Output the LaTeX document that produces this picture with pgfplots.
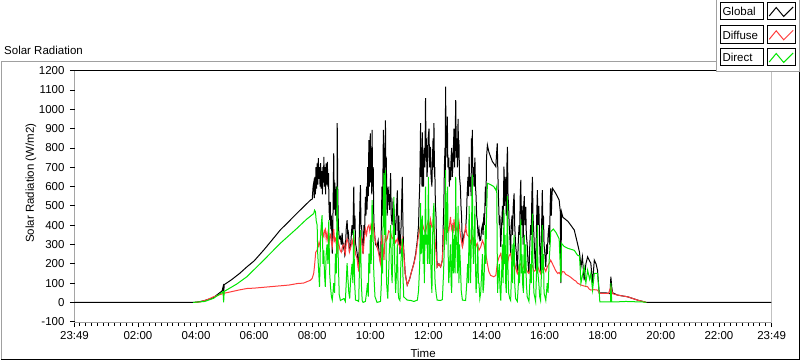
\documentclass[border=0pt]{standalone}
\usepackage{pgfplots}
\pgfplotsset{compat=1.18}
\usepackage{fontspec}
\setmainfont{Liberation Sans}
\definecolor{diffc}{RGB}{255,60,60}
\definecolor{dirc}{RGB}{0,230,0}
\definecolor{framegray}{RGB}{160,160,160}
\begin{document}
\fontsize{11.5bp}{14bp}\selectfont
\begin{tikzpicture}
\useasboundingbox (0,0) rectangle (800bp,361bp);
\begin{scope}[x=1bp,y=1bp]
\draw[framegray, line width=1bp] (1,1.5) -- (1,299.5) -- (717,299.5);
\draw[black, line width=1.2bp] (1,1.2) -- (799.2,1.2) -- (799.2,290);
\end{scope}
\begin{axis}[
  at={(74.5bp,38.3bp)}, anchor=south west,
  scale only axis, width=697.2bp, height=252bp,
  xmin=-0.18333, xmax=23.81667, ymin=-105, ymax=1200,
  xtick={-0.18333,2,4,6,8,10,12,14,16,18,20,22,23.81667},
  xticklabels={23:49,02:00,04:00,06:00,08:00,10:00,12:00,14:00,16:00,18:00,20:00,22:00,23:49},
  minor xtick={0,0.2,...,23.8},
  ytick={-100,0,100,200,300,400,500,600,700,800,900,1000,1100,1200},
  yticklabels={-100,0,100,200,300,400,500,600,700,800,900,1000,1100,1200},
  tick pos=left, tick align=outside,
  major tick length=4.5bp, minor tick length=3bp,
  every tick/.style={black, line width=0.8bp},
  axis line style={draw=none},
  yticklabel style={xshift=-1.5bp},
  title={Solar Radiation},
  every axis title shift=0pt,
  title style={at={(axis description cs:-0.1011,1.0623)}, anchor=base west, inner sep=0pt, yshift=0pt},
  xlabel={Time},
  xlabel style={at={(axis description cs:0.5,-0.12)}, anchor=center},
  ylabel={Solar Radiation (W/m2)},
  ylabel style={at={(axis description cs:-0.0624,0.554)}, anchor=center},
  clip=true,
]
% Global
\addplot[black, line width=1bp, mark=none] coordinates {
(-0.18333,0) (3.9,0) (4.1,3) (4.3,10) (4.6,25) (4.9,60) (4.93,80) (4.95,40) (4.97,92) (5.2,115) (5.5,150) (5.75,184) (6.0,215) (6.33,271) (6.6,320) (6.9,375) (7.2,420) (7.47,461) (7.7,495) (7.94,530)
(8.00,535) (8.03,600) (8.05,618) (8.07,540) (8.09,650) (8.11,560) (8.13,700) (8.15,590) (8.17,720) (8.19,610) (8.21,747) (8.23,640) (8.25,700) (8.27,600) (8.29,721) (8.31,590) (8.33,680) (8.35,560) (8.37,700) (8.39,620) (8.40,754) (8.42,600) (8.44,700) (8.46,560) (8.48,720) (8.50,610) (8.52,728) (8.54,600) (8.56,669) (8.58,480) (8.60,426) (8.62,520) (8.64,380) (8.66,450) (8.69,253) (8.71,400) (8.74,772) (8.76,480) (8.78,620) (8.80,450) (8.83,600) (8.85,420) (8.86,928) (8.88,560) (8.90,400) (8.93,330) (8.97,340)
(9.00,300) (9.03,360) (9.06,280) (9.09,300) (9.12,250) (9.14,271) (9.17,380) (9.20,426) (9.23,330) (9.25,350) (9.28,270) (9.32,288) (9.35,360) (9.37,400) (9.40,350) (9.43,599) (9.45,380) (9.47,450) (9.49,306) (9.52,280) (9.55,250) (9.58,200) (9.60,167) (9.62,350) (9.64,500) (9.66,608) (9.68,380) (9.70,400) (9.72,300) (9.75,253) (9.78,400) (9.80,350) (9.83,547) (9.85,450) (9.87,600) (9.89,480) (9.91,700) (9.93,550) (9.95,841) (9.97,600) (9.98,760)
(10.00,876) (10.02,620) (10.03,700) (10.05,560) (10.06,893) (10.08,600) (10.10,700) (10.12,426) (10.15,350) (10.18,300) (10.23,288) (10.27,320) (10.30,260) (10.35,203) (10.38,400) (10.40,600) (10.42,450) (10.44,750) (10.45,893) (10.47,500) (10.49,800) (10.50,700) (10.52,943) (10.54,600) (10.55,750) (10.57,500) (10.58,450) (10.61,600) (10.63,550) (10.66,480) (10.70,669) (10.72,450) (10.75,400) (10.78,520) (10.81,500) (10.84,400) (10.87,350) (10.90,480) (10.93,580) (10.96,300) (10.98,450)
(11.02,250) (11.06,400) (11.10,650) (11.12,420) (11.14,300) (11.20,150) (11.27,90) (11.35,120) (11.42,160) (11.50,203) (11.56,250) (11.62,323) (11.66,400) (11.68,520) (11.70,600) (11.72,800) (11.73,928) (11.75,650) (11.76,700) (11.78,600) (11.79,880) (11.81,650) (11.83,600) (11.84,750) (11.86,800) (11.88,700) (11.90,1058) (11.92,750) (11.93,850) (11.95,650) (11.97,700) (11.99,850)
(12.02,900) (12.04,700) (12.07,806) (12.09,650) (12.12,600) (12.14,750) (12.16,850) (12.18,700) (12.19,928) (12.21,650) (12.22,700) (12.24,500) (12.26,450) (12.28,300) (12.30,184) (12.36,200) (12.42,184) (12.48,219) (12.51,400) (12.53,500) (12.55,700) (12.57,800) (12.58,650) (12.59,1117) (12.61,800) (12.62,900) (12.64,750) (12.65,962) (12.67,700) (12.70,750) (12.72,600) (12.74,700) (12.76,634) (12.78,750) (12.80,800) (12.82,650) (12.84,700) (12.86,800) (12.88,900) (12.90,700) (12.92,850) (12.94,1048) (12.96,750) (12.98,850)
(13.00,700) (13.02,950) (13.04,750) (13.05,841) (13.07,650) (13.10,600) (13.12,500) (13.14,450) (13.17,288) (13.22,350) (13.28,375) (13.31,450) (13.33,550) (13.36,650) (13.38,550) (13.40,754) (13.42,600) (13.45,650) (13.47,550) (13.48,850) (13.50,700) (13.51,893) (13.53,650) (13.55,700) (13.57,600) (13.60,750) (13.62,600) (13.64,550) (13.66,450) (13.68,426) (13.71,350) (13.74,380) (13.77,320) (13.80,323) (13.83,380) (13.86,400) (13.88,350) (13.91,461) (13.93,400) (13.96,600) (13.98,500)
(14.00,750) (14.03,815) (14.08,780) (14.14,754) (14.20,730) (14.27,715) (14.32,703) (14.35,780) (14.37,824) (14.40,600) (14.42,500) (14.44,400) (14.46,450) (14.49,288) (14.52,400) (14.55,500) (14.57,400) (14.60,703) (14.62,500) (14.64,650) (14.66,600) (14.68,450) (14.70,700) (14.72,806) (14.74,550) (14.76,500) (14.78,400) (14.80,350) (14.83,253) (14.85,400) (14.88,450) (14.90,350) (14.92,500) (14.95,565) (14.97,400)
(15.00,300) (15.03,250) (15.06,150) (15.09,300) (15.12,400) (15.14,350) (15.16,550) (15.18,634) (15.20,400) (15.22,500) (15.24,450) (15.26,300) (15.28,500) (15.30,550) (15.32,400) (15.35,495) (15.37,350) (15.40,300) (15.43,200) (15.46,150) (15.49,300) (15.52,400) (15.54,350) (15.56,550) (15.58,650) (15.60,450) (15.63,350) (15.66,250) (15.69,167) (15.72,400) (15.75,582) (15.77,400) (15.80,500) (15.83,300) (15.86,150) (15.89,350) (15.92,582) (15.94,400) (15.96,450) (15.98,300)
(16.01,250) (16.04,184) (16.07,300) (16.09,250) (16.12,350) (16.15,400) (16.17,300) (16.19,500) (16.21,591) (16.23,450) (16.25,550) (16.27,591) (16.32,580) (16.40,560) (16.50,530) (16.54,469) (16.56,100) (16.58,469) (16.63,440) (16.67,436) (16.80,420) (16.90,400)
(17.02,375) (17.13,306) (17.20,260) (17.25,184) (17.30,236) (17.36,115) (17.42,200) (17.48,236) (17.53,220) (17.59,203) (17.65,100) (17.71,219) (17.77,200) (17.82,167) (17.88,47) (17.94,50)
(18.10,50) (18.25,45) (18.28,133) (18.31,80) (18.34,50) (18.51,38) (18.86,29) (19.20,12) (19.43,3) (19.50,0) (23.81667,0)
};
% Diffuse
\addplot[diffc, line width=1bp, mark=none] coordinates {
(3.95,0) (4.15,3) (4.4,15) (4.6,29) (4.95,47) (5.2,55) (5.5,65) (5.75,72) (6.0,74) (6.3,78) (6.6,82) (6.9,86) (7.2,90) (7.5,98) (7.7,100) (7.94,115) (8.0,125) (8.05,150) (8.08,190) (8.12,260) (8.17,271) (8.2,310) (8.23,290) (8.28,323) (8.31,380) (8.34,400) (8.37,350) (8.40,340) (8.42,370) (8.45,380) (8.48,330) (8.51,360) (8.54,320) (8.57,300) (8.60,340) (8.63,350) (8.66,310) (8.69,288) (8.72,340) (8.74,380) (8.77,320) (8.80,330) (8.83,300) (8.86,250) (8.89,320) (8.92,300) (8.96,270)
(9.0,260) (9.04,290) (9.09,300) (9.12,260) (9.14,250) (9.17,310) (9.2,330) (9.25,300) (9.28,260) (9.32,280) (9.37,320) (9.4,300) (9.43,350) (9.46,300) (9.49,250) (9.54,230) (9.6,160) (9.63,280) (9.66,350) (9.7,330) (9.75,250) (9.79,320) (9.83,380) (9.87,350) (9.91,390) (9.95,400) (9.98,370)
(10.02,400) (10.06,360) (10.09,420) (10.12,380) (10.17,320) (10.23,288) (10.28,260) (10.35,203) (10.38,300) (10.4,350) (10.44,280) (10.47,219) (10.5,320) (10.52,357) (10.55,320) (10.58,330) (10.63,370) (10.7,360) (10.75,330) (10.81,340) (10.87,310) (10.93,330) (10.98,300)
(11.04,280) (11.1,330) (11.14,280) (11.2,150) (11.27,90) (11.35,120) (11.42,160) (11.5,200) (11.56,240) (11.62,306) (11.66,350) (11.7,380) (11.74,340) (11.79,410) (11.84,380) (11.9,360) (11.95,400)
(12.0,420) (12.04,380) (12.07,430) (12.12,390) (12.19,400) (12.24,300) (12.3,184) (12.36,200) (12.42,184) (12.48,219) (12.53,380) (12.56,350) (12.59,426) (12.62,380) (12.65,400) (12.7,370) (12.76,443) (12.79,380) (12.82,400) (12.85,360) (12.88,430) (12.91,380) (12.94,392) (12.99,370)
(13.05,420) (13.1,350) (13.17,288) (13.22,330) (13.28,392) (13.33,350) (13.4,340) (13.45,310) (13.51,340) (13.55,300) (13.6,320) (13.64,290) (13.68,306) (13.74,270) (13.8,288) (13.86,320) (13.91,300) (13.96,260)
(14.0,230) (14.03,200) (14.08,160) (14.14,140) (14.25,133) (14.32,140) (14.37,200) (14.42,230) (14.49,253) (14.54,210) (14.6,230) (14.66,190) (14.72,200) (14.77,240) (14.83,253) (14.88,210) (14.95,220)
(15.0,180) (15.06,150) (15.12,190) (15.18,200) (15.24,170) (15.3,200) (15.35,180) (15.4,160) (15.46,150) (15.52,180) (15.58,190) (15.63,160) (15.69,167) (15.75,190) (15.8,170) (15.86,150) (15.92,190) (15.98,180)
(16.04,160) (16.09,184) (16.15,200) (16.21,219) (16.27,200) (16.32,184) (16.38,165) (16.45,150) (16.5,155) (16.56,141) (16.61,160) (16.67,158) (16.73,145) (16.8,140) (16.9,130)
(17.02,115) (17.08,110) (17.13,100) (17.2,95) (17.25,90) (17.36,85) (17.48,81) (17.53,70) (17.59,64) (17.7,66) (17.82,64) (17.88,50) (17.94,47)
(18.2,47) (18.28,81) (18.34,45) (18.51,38) (18.86,29) (19.2,12) (19.43,3) (19.5,0)
};
% Direct
\addplot[dirc, line width=1bp, mark=none] coordinates {
(3.9,0) (4.3,5) (4.6,21) (4.93,55) (4.95,0) (4.97,57) (5.4,95) (5.75,133) (6.33,219) (6.9,306) (7.47,383) (7.8,430) (8.05,460)
(8.08,478) (8.11,470) (8.14,420) (8.17,400) (8.19,250) (8.22,167) (8.25,81) (8.27,200) (8.28,300) (8.31,400) (8.34,452) (8.36,300) (8.37,200) (8.40,270) (8.42,150) (8.45,81) (8.48,250) (8.51,300) (8.54,200) (8.57,426) (8.6,150) (8.63,81) (8.66,30) (8.69,12) (8.72,60) (8.74,100) (8.77,50) (8.8,253) (8.83,150) (8.86,599) (8.88,350) (8.9,200) (8.93,40) (8.97,10)
(9.03,15) (9.09,20) (9.14,5) (9.17,100) (9.2,203) (9.23,120) (9.26,50) (9.29,20) (9.32,115) (9.37,200) (9.4,100) (9.43,375) (9.46,100) (9.49,12) (9.55,10) (9.6,5) (9.63,200) (9.66,375) (9.69,100) (9.72,10) (9.75,0) (9.83,5) (9.87,50) (9.9,100) (9.93,30) (9.95,253) (9.98,150)
(10.0,350) (10.03,200) (10.06,530) (10.09,400) (10.12,150) (10.16,30) (10.23,0) (10.35,5) (10.38,100) (10.4,300) (10.42,150) (10.44,450) (10.47,669) (10.49,350) (10.52,685) (10.54,300) (10.56,100) (10.6,20) (10.63,150) (10.65,250) (10.7,400) (10.72,200) (10.75,100) (10.78,300) (10.81,547) (10.84,200) (10.87,50) (10.9,150) (10.93,300) (10.96,50) (10.98,20)
(11.02,10) (11.05,200) (11.1,330) (11.12,150) (11.15,29) (11.27,12) (11.4,10) (11.5,5) (11.62,12) (11.66,60) (11.7,200) (11.73,514) (11.75,250) (11.77,300) (11.79,450) (11.82,200) (11.84,350) (11.86,100) (11.9,600) (11.92,300) (11.95,350) (11.97,200)
(12.0,650) (12.03,200) (12.05,350) (12.07,400) (12.09,150) (12.12,50) (12.14,300) (12.16,450) (12.19,514) (12.21,200) (12.23,100) (12.27,40) (12.3,12) (12.42,10) (12.48,15) (12.52,150) (12.55,300) (12.57,450) (12.59,685) (12.61,300) (12.63,400) (12.66,600) (12.68,250) (12.7,100) (12.73,200) (12.76,300) (12.78,100) (12.8,50) (12.82,250) (12.84,400) (12.86,150) (12.88,200) (12.9,350) (12.92,150) (12.94,650) (12.96,300) (12.98,300)
(13.0,150) (13.02,500) (13.05,100) (13.07,300) (13.1,200) (13.13,60) (13.17,12) (13.28,10) (13.32,100) (13.35,200) (13.38,100) (13.4,500) (13.43,250) (13.45,100) (13.48,350) (13.51,660) (13.53,300) (13.55,200) (13.58,350) (13.6,500) (13.62,200) (13.64,50) (13.67,150) (13.7,300) (13.72,100) (13.74,100) (13.77,20) (13.8,50) (13.83,150) (13.86,250) (13.88,50) (13.91,100) (13.94,250) (13.96,400) (13.98,200)
(14.0,450) (14.03,617) (14.14,610) (14.25,600) (14.32,582) (14.35,600) (14.38,50) (14.41,150) (14.44,200) (14.46,80) (14.49,10) (14.52,150) (14.55,300) (14.57,100) (14.6,480) (14.62,200) (14.64,350) (14.66,100) (14.68,50) (14.7,300) (14.72,550) (14.74,150) (14.76,50) (14.8,20) (14.83,10) (14.86,150) (14.88,300) (14.9,100) (14.92,250) (14.95,350) (14.97,100)
(15.0,20) (15.06,5) (15.09,80) (15.12,200) (15.14,100) (15.16,300) (15.18,430) (15.2,150) (15.22,250) (15.24,100) (15.27,50) (15.3,350) (15.32,150) (15.35,300) (15.37,100) (15.4,30) (15.46,5) (15.49,100) (15.52,200) (15.54,100) (15.56,300) (15.58,460) (15.6,200) (15.63,50) (15.69,5) (15.72,150) (15.75,400) (15.77,150) (15.8,100) (15.83,30) (15.86,10) (15.89,150) (15.92,400) (15.94,150) (15.96,250) (15.98,50)
(16.04,10) (16.09,100) (16.12,50) (16.15,200) (16.19,300) (16.21,366) (16.3,380) (16.4,360) (16.5,330) (16.56,107) (16.58,306) (16.67,290) (16.8,280)
(17.02,270) (17.13,245) (17.2,240) (17.25,100) (17.36,184) (17.42,100) (17.48,167) (17.55,120) (17.59,150) (17.65,64) (17.71,150) (17.82,150) (17.88,47) (17.9,3)
(18.27,3) (18.28,100) (18.31,3) (18.5,3) (18.8,5) (19.2,3) (19.43,2) (19.5,0)
};
\draw[black, line width=1bp] (rel axis cs:0,0) -- (rel axis cs:0,1) -- (rel axis cs:1,1);
\draw[framegray, line width=1bp] (rel axis cs:0,0) -- (rel axis cs:1,0) -- (rel axis cs:1,1);
\end{axis}
\begin{scope}[x=1bp,y=1bp]
% legend
\fill[white] (716.7,289.3) rectangle (800,361);
\draw[framegray, line width=1bp] (716.7,361) -- (716.7,289.3) -- (799.5,289.3) -- (799.5,361);
\foreach \yb/\lab/\col in {341/Global/black, 317.7/Diffuse/diffc, 295/Direct/dirc} {
  \draw[black, line width=1bp, fill=white] (720.7,\yb) rectangle (763,\yb+17.3);
  \node[anchor=west, inner sep=0pt] at (722.3,\yb+8.4) {\lab};
  \draw[black, line width=1bp, fill=white] (767.7,\yb) rectangle (795.7,\yb+17.3);
  \draw[\col, line width=1bp] (769.2,\yb+4) -- (776.2,\yb+12.5) -- (783.7,\yb+3.5) -- (793.2,\yb+13);
}
\end{scope}
\end{tikzpicture}
\end{document}
